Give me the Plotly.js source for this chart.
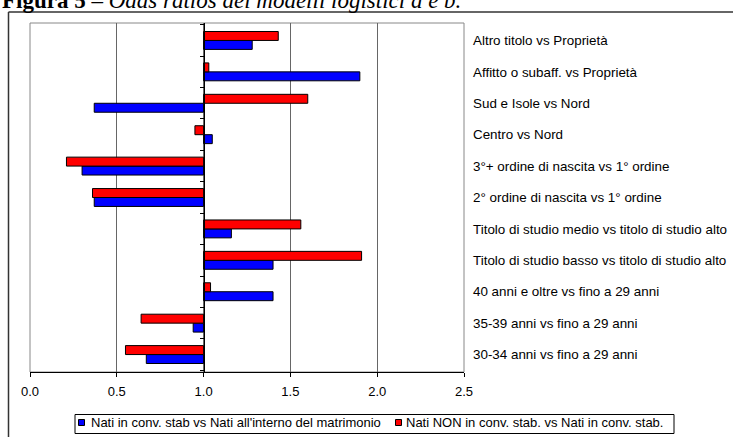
<!DOCTYPE html>
<html>
<head>
<meta charset="utf-8">
<script src="https://cdn.plot.ly/plotly-3.0.1.min.js"></script>
<style>html,body{margin:0;padding:0;background:#fff;overflow:hidden;}#chart{width:733px;height:437px;}</style>
</head>
<body>
<div id="chart"></div>
<script>
// Categories listed bottom-to-top as drawn
const categories = [
  '30-34 anni vs fino a 29 anni',
  '35-39 anni vs fino a 29 anni',
  '40 anni e oltre vs fino a 29 anni',
  'Titolo di studio basso vs titolo di studio alto',
  'Titolo di studio medio vs titolo di studio alto',
  '2° ordine di nascita vs 1° ordine',
  '3°+ ordine di nascita vs 1° ordine',
  'Centro vs Nord',
  'Sud e Isole vs Nord',
  'Affitto o subaff. vs Proprietà',
  'Altro titolo vs Proprietà'
];
const seriesBlueName = "Nati in conv. stab vs Nati all'interno del matrimonio";
const seriesRedName = 'Nati NON in conv. stab. vs Nati in conv. stab.';
const blueValues = [0.67, 0.94, 1.40, 1.40, 1.16, 0.37, 0.30, 1.05, 0.37, 1.90, 1.28];
const redValues  = [0.55, 0.64, 1.04, 1.91, 1.56, 0.36, 0.21, 0.95, 1.60, 1.03, 1.43];
const xTickVals = [0, 0.5, 1, 1.5, 2, 2.5];
const refValue = 1;
const titleText = '<b>Figura 5</b> – <i>Odds ratios dei modelli logistici a e b.</i>';

const W = 733, H = 437;
const M = {l: 30, r: 269, t: 23, b: 65, autoexpand: false};
const pw = W - M.l - M.r, ph = H - M.t - M.b;
const px = x => (x - M.l) / pw;
const py = y => (H - M.b - y) / ph;

const font = {family: 'Liberation Sans, Arial, sans-serif', size: 13, color: '#000'};
const catFont = {family: 'Liberation Sans, Arial, sans-serif', size: 13.4, color: '#000'};
const blueColor = '#0000FF', redColor = '#FF0000';

const traces = [
  {
    type: 'bar', orientation: 'h', name: seriesBlueName,
    y: categories, x: blueValues.map(v => v - refValue), base: refValue,
    marker: {color: blueColor, line: {color: '#000', width: 1}},
    hoverinfo: 'skip'
  },
  {
    type: 'bar', orientation: 'h', name: seriesRedName,
    y: categories, x: redValues.map(v => v - refValue), base: refValue,
    marker: {color: redColor, line: {color: '#000', width: 1}},
    hoverinfo: 'skip'
  },
  {
    type: 'scatter', mode: 'none', y: categories, x: blueValues,
    yaxis: 'y2', showlegend: false, hoverinfo: 'skip'
  }
];

// Legend drawn by hand (single row, compact like the reference)
const legY = 422.5;
const legendShapes = [
  {type: 'rect', xref: 'paper', yref: 'paper', x0: px(75), x1: px(674), y0: py(414.5), y1: py(433.5),
   line: {color: '#000', width: 1}, fillcolor: '#fff'},
  {type: 'rect', xref: 'paper', yref: 'paper', x0: px(78.5), x1: px(84.5), y0: py(legY - 3), y1: py(legY + 3),
   line: {color: '#000', width: 1}, fillcolor: blueColor},
  {type: 'rect', xref: 'paper', yref: 'paper', x0: px(395.5), x1: px(401.5), y0: py(legY - 3), y1: py(legY + 3),
   line: {color: '#000', width: 1}, fillcolor: redColor}
];
const legendAnn = [
  {text: seriesBlueName, xref: 'paper', yref: 'paper', x: px(90), y: py(legY),
   xanchor: 'left', yanchor: 'middle', showarrow: false, font: font, borderpad: 0},
  {text: seriesRedName, xref: 'paper', yref: 'paper', x: px(405), y: py(legY),
   xanchor: 'left', yanchor: 'middle', showarrow: false, font: font, borderpad: 0}
];

const layout = {
  width: W, height: H,
  margin: M,
  paper_bgcolor: '#fff', plot_bgcolor: '#fff',
  font: font,
  barmode: 'group', bargap: 0.43, bargroupgap: 0,
  showlegend: false,
  xaxis: {
    range: [0, 2.5], tickvals: xTickVals, tickformat: '.1f',
    showgrid: true, gridcolor: '#666', gridwidth: 1, zeroline: false,
    showline: true, linecolor: '#000', linewidth: 1,
    ticks: 'outside', ticklen: 4, tickcolor: '#000',
    ticklabelstandoff: 3, tickfont: font, fixedrange: true, automargin: false
  },
  yaxis: {
    type: 'category', categoryorder: 'array', categoryarray: categories,
    side: 'right', showgrid: false, zeroline: false, showline: false,
    ticks: '', ticklabelstandoff: 8, tickfont: catFont, fixedrange: true, automargin: false
  },
  yaxis2: {
    type: 'category', categoryorder: 'array', categoryarray: categories,
    overlaying: 'y', matches: 'y', anchor: 'free', position: px(M.l + pw * refValue / 2.5),
    side: 'left', showgrid: false, zeroline: false,
    showline: true, linecolor: '#000', linewidth: 1,
    ticks: 'outside', tickson: 'boundaries', ticklen: 4, tickcolor: '#000',
    showticklabels: false, fixedrange: true, automargin: false
  },
  shapes: [
    {type: 'rect', xref: 'paper', yref: 'paper', x0: 0, x1: 1, y0: 0, y1: 1,
     line: {color: '#888', width: 1}, layer: 'below'},
    {type: 'line', xref: 'paper', yref: 'paper', x0: px(8.5), x1: px(733), y0: py(12), y1: py(12),
     line: {color: '#333', width: 1.5}},
    {type: 'line', xref: 'paper', yref: 'paper', x0: px(8.5), x1: px(8.5), y0: py(12), y1: py(437),
     line: {color: '#333', width: 1.5}}
  ].concat(legendShapes),
  annotations: [
    {text: titleText, xref: 'paper', yref: 'paper', x: px(0), y: py(15),
     xanchor: 'left', yanchor: 'bottom', showarrow: false,
     font: {family: 'Liberation Serif, Times New Roman, serif', size: 23, color: '#000'}}
  ].concat(legendAnn)
};

Plotly.newPlot('chart', traces, layout, {displayModeBar: false, staticPlot: true});
</script>
</body>
</html>
